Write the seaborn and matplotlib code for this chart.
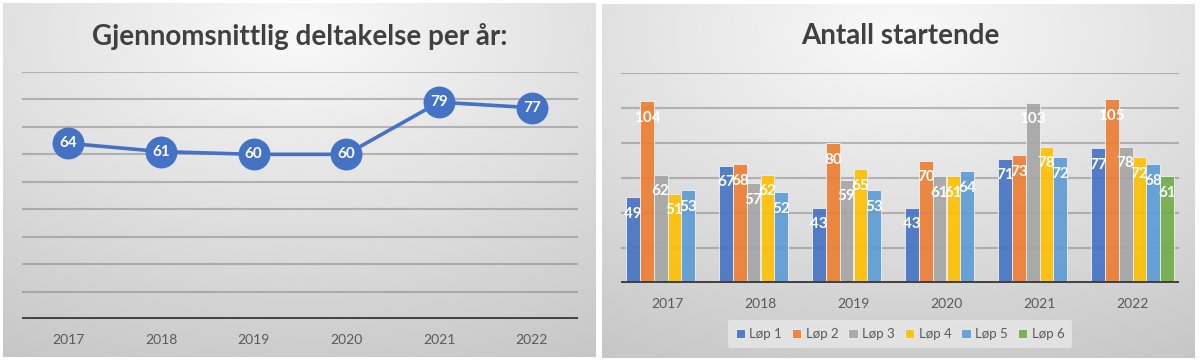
import numpy as np
import pandas as pd
import matplotlib.pyplot as plt
import seaborn as sns

# data
years = ['2017', '2018', '2019', '2020', '2021', '2022']
avg_deltakelse = [64, 61, 60, 60, 79, 77]

lop_names = ['Løp 1', 'Løp 2', 'Løp 3', 'Løp 4', 'Løp 5', 'Løp 6']
lop1 = [49, 67, 43, 43, 71, 77]
lop2 = [104, 68, 80, 70, 73, 105]
lop3 = [62, 57, 59, 61, 103, 78]
lop4 = [51, 62, 65, 61, 78, 72]
lop5 = [53, 52, 53, 64, 72, 68]
lop6 = [None, None, None, None, None, 61]

office = ['#4472C4', '#ED7D31', '#A5A5A5', '#FFC000', '#5B9BD5', '#70AD47']

rows = []
for name, vals in zip(lop_names, [lop1, lop2, lop3, lop4, lop5, lop6]):
    for yr, v in zip(years, vals):
        if v is not None:
            rows.append({'year': yr, 'lop': name, 'value': v})
df = pd.DataFrame(rows)

sns.set_theme(style='white')
plt.rcParams['font.family'] = ['Lato', 'DejaVu Sans']

W, H = 1200, 362
fig = plt.figure(figsize=(W / 100, H / 100), dpi=100)
fig.patch.set_facecolor('white')


def px(x0, y0, x1, y1):
    # pixel box (top-left origin) -> figure fraction rect
    return [x0 / W, 1 - y1 / H, (x1 - x0) / W, (y1 - y0) / H]


# radial grey gradient behind each panel
gy, gx = np.mgrid[0:1:200j, 0:1:300j]
dist = np.sqrt((gx - 0.5) ** 2 + (gy - 0.08) ** 2)
grad = np.clip(0.975 - 0.19 * dist, 0, 1)
for box in [px(3, 3, 596, 357), px(602, 4, 1194, 358)]:
    bg = fig.add_axes(box, zorder=-5)
    bg.imshow(grad, cmap='gray', vmin=0, vmax=1, aspect='auto', extent=[0, 1, 1, 0])
    bg.set_axis_off()

grid_kw = dict(color='#808080', alpha=0.5, linewidth=1.5, zorder=0)
tick_color = '#595959'
title_color = '#404040'

# ---- left: gjennomsnitt line chart
ax1 = fig.add_axes(px(22, 72, 578, 319))
ax1.patch.set_alpha(0)
sns.pointplot(x=years, y=avg_deltakelse, color='#4472C4', markers='o',
              markersize=21, linewidth=2.6, errorbar=None, ax=ax1, zorder=3)
for i, v in enumerate(avg_deltakelse):
    ax1.text(i, v, str(v), color='white', fontsize=11, fontweight='bold',
             ha='center', va='center', zorder=5)
ax1.set_xlim(-0.5, 5.5)
ax1.set_ylim(0, 90)
for yv in range(10, 91, 10):
    ax1.axhline(yv, **grid_kw)
ax1.axhline(0, color='#404040', linewidth=2.8, zorder=2)
ax1.set_yticks([])
ax1.set_xlabel('')
ax1.set_ylabel('')
ax1.tick_params(axis='x', length=0, pad=11, labelsize=10, labelcolor=tick_color)
sns.despine(ax=ax1, left=True, bottom=True)
fig.text(300 / W, 1 - 36 / H, 'Gjennomsnittlig deltakelse per år:', ha='center',
         va='center', fontsize=20, fontweight='bold', color=title_color)

# ---- right: antall startende bar chart
ax2 = fig.add_axes(px(621, 73, 1179, 283))
ax2.patch.set_alpha(0)
sns.barplot(data=df, x='year', y='value', hue='lop', order=years,
            hue_order=lop_names, palette=office, saturation=1, width=0.89,
            edgecolor='#eeeeee', linewidth=0.7, alpha=0.9, ax=ax2, zorder=2)
for c in ax2.containers:
    ax2.bar_label(c, fmt='%d', padding=-17, color='white', fontsize=11,
                  fontweight='bold')
ax2.set_xlim(-0.5, 5.5)
ax2.set_ylim(0, 120)
for yv in range(20, 121, 20):
    ax2.axhline(yv, **grid_kw)
ax2.axhline(0, color='#404040', linewidth=2.8, zorder=3)
ax2.set_yticks([])
ax2.set_xlabel('')
ax2.set_ylabel('')
ax2.tick_params(axis='x', length=0, pad=11, labelsize=10, labelcolor=tick_color)
sns.despine(ax=ax2, left=True, bottom=True)

handles, labels = ax2.get_legend_handles_labels()
leg = ax2.legend(handles, labels, loc='center', bbox_to_anchor=(900 / W, 1 - 334 / H),
                 bbox_transform=fig.transFigure, ncol=6, frameon=True,
                 fontsize=9.5, handlelength=0.7, handleheight=0.7,
                 handletextpad=0.35, columnspacing=0.75, borderpad=0.6)
leg.get_frame().set_facecolor('#ebebeb')
leg.get_frame().set_edgecolor('none')
leg.get_frame().set_alpha(0.7)
for t in leg.get_texts():
    t.set_color(tick_color)

fig.text(900 / W, 1 - 36 / H, 'Antall startende', ha='center', va='center',
         fontsize=20, fontweight='bold', color=title_color)

fig.savefig('out.png', dpi=100)
